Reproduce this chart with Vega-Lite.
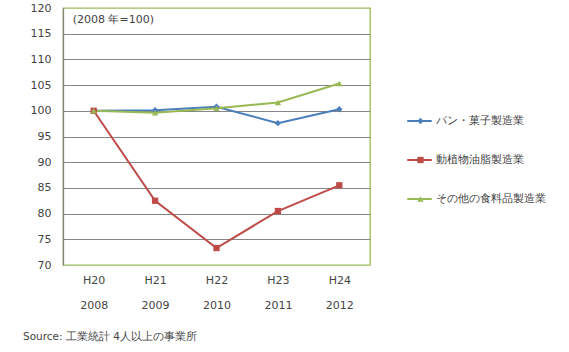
{
  "$schema": "https://vega.github.io/schema/vega-lite/v6.json",
  "width": 307,
  "height": 257,
  "autosize": {"type": "none"},
  "padding": {"left": 63, "top": 8, "right": 199, "bottom": 87},
  "background": "white",
  "config": {
    "font": "DejaVu Sans",
    "view": {"stroke": "#9BBB59", "strokeWidth": 1.3}
  },
  "title": {
    "text": "Source: 工業統計 4人以上の事業所",
    "orient": "bottom",
    "anchor": "start",
    "frame": "group",
    "dx": -40,
    "offset": 22,
    "fontSize": 10.5,
    "fontWeight": "normal",
    "color": "#444444",
    "font": "DejaVu Sans"
  },
  "data": {
    "values": [
      {"year": "2008", "series": "パン・菓子製造業", "value": 100},
      {"year": "2009", "series": "パン・菓子製造業", "value": 100.1},
      {"year": "2010", "series": "パン・菓子製造業", "value": 100.8},
      {"year": "2011", "series": "パン・菓子製造業", "value": 97.6},
      {"year": "2012", "series": "パン・菓子製造業", "value": 100.3},
      {"year": "2008", "series": "動植物油脂製造業", "value": 100},
      {"year": "2009", "series": "動植物油脂製造業", "value": 82.5},
      {"year": "2010", "series": "動植物油脂製造業", "value": 73.3},
      {"year": "2011", "series": "動植物油脂製造業", "value": 80.5},
      {"year": "2012", "series": "動植物油脂製造業", "value": 85.5},
      {"year": "2008", "series": "その他の食料品製造業", "value": 100},
      {"year": "2009", "series": "その他の食料品製造業", "value": 99.6},
      {"year": "2010", "series": "その他の食料品製造業", "value": 100.5},
      {"year": "2011", "series": "その他の食料品製造業", "value": 101.6},
      {"year": "2012", "series": "その他の食料品製造業", "value": 105.3}
    ]
  },
  "encoding": {
    "x": {
      "field": "year",
      "type": "ordinal",
      "axis": {
        "title": null,
        "domain": false,
        "ticks": false,
        "labelAngle": 0,
        "labelExpr": "['H' + (toNumber(datum.value) - 1988), datum.value]",
        "labelLineHeight": 25,
        "labelPadding": 9,
        "labelFontSize": 11,
        "labelColor": "#444444",
        "labelFont": "DejaVu Sans"
      }
    },
    "y": {
      "field": "value",
      "type": "quantitative",
      "scale": {"domain": [70, 120], "nice": false, "zero": false},
      "axis": {
        "title": null,
        "tickCount": 10,
        "labelOverlap": false,
        "domainColor": "#868686",
        "domainWidth": 1.3,
        "ticks": false,
        "labelPadding": 12,
        "labelFontSize": 11,
        "labelColor": "#444444",
        "labelFont": "DejaVu Sans",
        "gridColor": {"condition": {"test": "datum.value == 70 || datum.value == 120", "value": "transparent"}, "value": "#868686"},
        "gridWidth": 1.2,
        "gridOpacity": 1
      }
    }
  },
  "resolve": {"legend": {"color": "independent", "shape": "independent"}},
  "layer": [
    {
      "mark": {"type": "line", "strokeWidth": 2},
      "encoding": {
        "color": {
          "field": "series",
          "type": "nominal",
          "scale": {
            "domain": ["パン・菓子製造業", "動植物油脂製造業", "その他の食料品製造業"],
            "range": ["#4A7EBB", "#BE4B48", "#98B954"]
          },
          "legend": {
            "title": null,
            "orient": "none",
            "legendX": 343,
            "legendY": 105,
            "rowPadding": 23,
            "clipHeight": 16,
            "symbolType": "stroke",
            "symbolSize": 600,
            "symbolStrokeWidth": 2,
            "labelFontSize": 11,
            "labelColor": "#444444",
            "labelFont": "DejaVu Sans",
            "labelOffset": 3
          }
        },
        "order": {"field": "year"}
      }
    },
    {
      "mark": {"type": "point", "filled": true, "size": 40, "opacity": 1},
      "encoding": {
        "color": {
          "field": "series",
          "type": "nominal",
          "scale": {
            "domain": ["パン・菓子製造業", "動植物油脂製造業", "その他の食料品製造業"],
            "range": ["#4A7EBB", "#BE4B48", "#98B954"]
          },
          "legend": {
            "title": null,
            "orient": "none",
            "legendX": 352,
            "legendY": 105,
            "rowPadding": 23,
            "clipHeight": 16,
            "symbolSize": 40,
            "symbolOpacity": 1,
            "symbolStrokeWidth": 0,
            "labelExpr": "''",
            "labelFontSize": 11,
            "labelFont": "DejaVu Sans",
            "labelOffset": 3
          }
        },
        "shape": {
          "field": "series",
          "type": "nominal",
          "scale": {
            "domain": ["パン・菓子製造業", "動植物油脂製造業", "その他の食料品製造業"],
            "range": ["diamond", "square", "triangle-up"]
          }
        }
      }
    },
    {
      "data": {"values": [{"label": "(2008 年=100)", "year": "2008", "value": 117.6}]},
      "mark": {"type": "text", "align": "left", "baseline": "middle", "dx": -21, "fontSize": 11, "color": "#444444", "font": "DejaVu Sans"},
      "encoding": {
        "text": {"field": "label"}
      }
    }
  ]
}
